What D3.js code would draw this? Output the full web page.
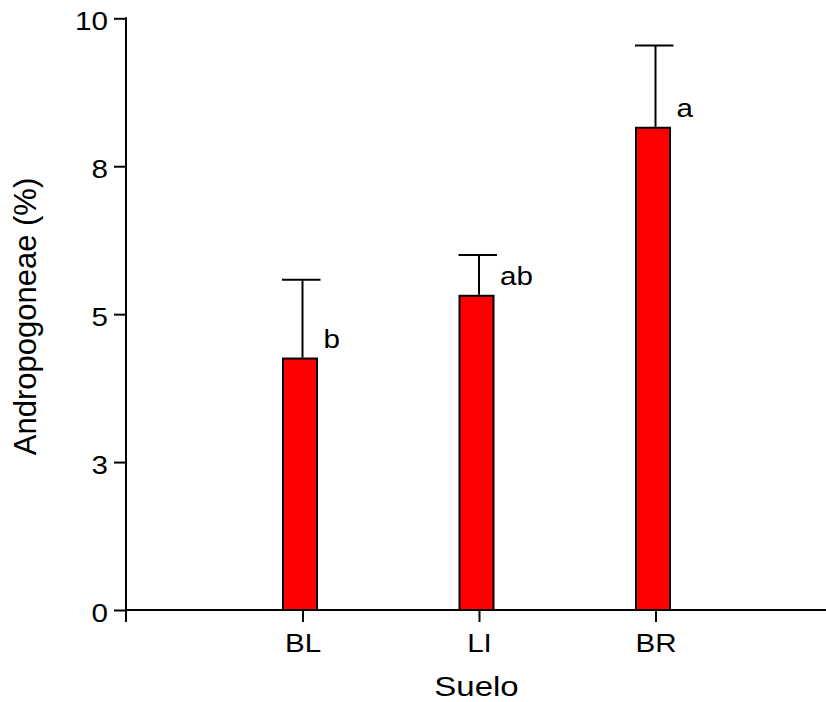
<!DOCTYPE html>
<html>
<head>
<meta charset="utf-8">
<script src="https://cdn.jsdelivr.net/npm/d3@7"></script>
<style>
  html, body { margin: 0; padding: 0; background: #fff; }
  svg { display: block; }
  text { font-family: "Liberation Sans", Arial, Helvetica, sans-serif; fill: #000; }
</style>
</head>
<body>
<svg id="chart" width="826" height="702"></svg>
<script>
// Soil types and Andropogoneae cover (mean and standard deviation, %)
const categories = ["BL", "LI", "BR"];
const means = [4.25, 5.31, 8.15];
const sds = [1.33, 0.69, 1.39];
const groupLetters = ["b", "ab", "a"];

// Y axis ticks and their printed labels
const yTickValues = [0, 2.5, 5, 7.5, 10];
const yTickLabels = ["0", "3", "5", "8", "10"];

const xTitle = "Suelo";
const yTitle = "Andropogoneae (%)";

const W = 826, H = 702;
const axisX = 126, axisY = 610;
const wide = "scale(1.16,1)";

const svg = d3.select("#chart");

const y = d3.scaleLinear().domain([0, 10]).range([axisY, 18.3]);
const x = d3.scalePoint().domain(categories).range([axisX, 832]).padding(1);

// Bars
const barLeft = 19.5, barW = 34;
svg.append("g").selectAll("rect")
  .data(categories)
  .join("rect")
  .attr("x", (d) => x(d) - barLeft)
  .attr("y", (d, i) => y(means[i]))
  .attr("width", barW)
  .attr("height", (d, i) => y(0) - y(means[i]))
  .attr("fill", "#ff0000")
  .attr("stroke", "#000")
  .attr("stroke-width", 2);

// Error bars (upper only)
const eb = svg.append("g").attr("stroke", "#000").attr("stroke-width", 2);
categories.forEach((c, i) => {
  const cx = x(c);
  eb.append("line")
    .attr("x1", cx).attr("x2", cx)
    .attr("y1", y(means[i]) - 1).attr("y2", y(means[i] + sds[i]));
  eb.append("line")
    .attr("x1", cx - 20.5).attr("x2", cx + 18)
    .attr("y1", y(means[i] + sds[i])).attr("y2", y(means[i] + sds[i]));
});

// Significance letters
categories.forEach((c, i) => {
  svg.append("g")
    .attr("transform", `translate(${x(c) + 21},${y(means[i]) - 11}) ${wide}`)
    .append("text")
    .attr("font-size", 25.5)
    .text(groupLetters[i]);
});

// Y axis
const yAxis = svg.append("g")
  .attr("transform", `translate(${axisX},0)`)
  .call(d3.axisLeft(y)
    .tickValues(yTickValues)
    .tickFormat((d, i) => yTickLabels[i])
    .tickSize(12)
    .tickSizeOuter(0));
yAxis.select(".domain").remove();
yAxis.append("line")
  .attr("x1", 0).attr("x2", 0)
  .attr("y1", y(10) - 1).attr("y2", axisY + 12)
  .attr("stroke", "#000").attr("stroke-width", 2);
yAxis.selectAll(".tick line").attr("stroke", "#000").attr("stroke-width", 2);
yAxis.selectAll(".tick text")
  .attr("x", -15.5)
  .attr("dy", 11)
  .attr("font-size", 25.5)
  .attr("font-family", null)
  .attr("transform", wide);

// X axis
const xAxis = svg.append("g")
  .attr("transform", `translate(0,${axisY})`)
  .call(d3.axisBottom(x).tickSize(12).tickSizeOuter(0));
xAxis.select(".domain").remove();
xAxis.append("line")
  .attr("x1", axisX - 1).attr("x2", W)
  .attr("y1", 0).attr("y2", 0)
  .attr("stroke", "#000").attr("stroke-width", 2);
xAxis.selectAll(".tick line").attr("stroke", "#000").attr("stroke-width", 2);
xAxis.selectAll(".tick text")
  .attr("y", 42)
  .attr("dy", null)
  .attr("font-size", 25.5)
  .attr("font-family", null)
  .attr("transform", wide);
svg.selectAll(".tick").attr("font-family", null);
svg.selectAll("g").filter(function () { return this.getAttribute("font-size") === "10"; })
  .attr("font-size", null);

// Axis titles
svg.append("g")
  .attr("transform", `translate(476.5,695.5) scale(1.2,1)`)
  .append("text")
  .attr("text-anchor", "middle")
  .attr("font-size", 27.5)
  .text(xTitle);

svg.append("text")
  .attr("transform", "translate(35.5,316.5) rotate(-90)")
  .attr("text-anchor", "middle")
  .attr("font-size", 31)
  .text(yTitle);
</script>
</body>
</html>
